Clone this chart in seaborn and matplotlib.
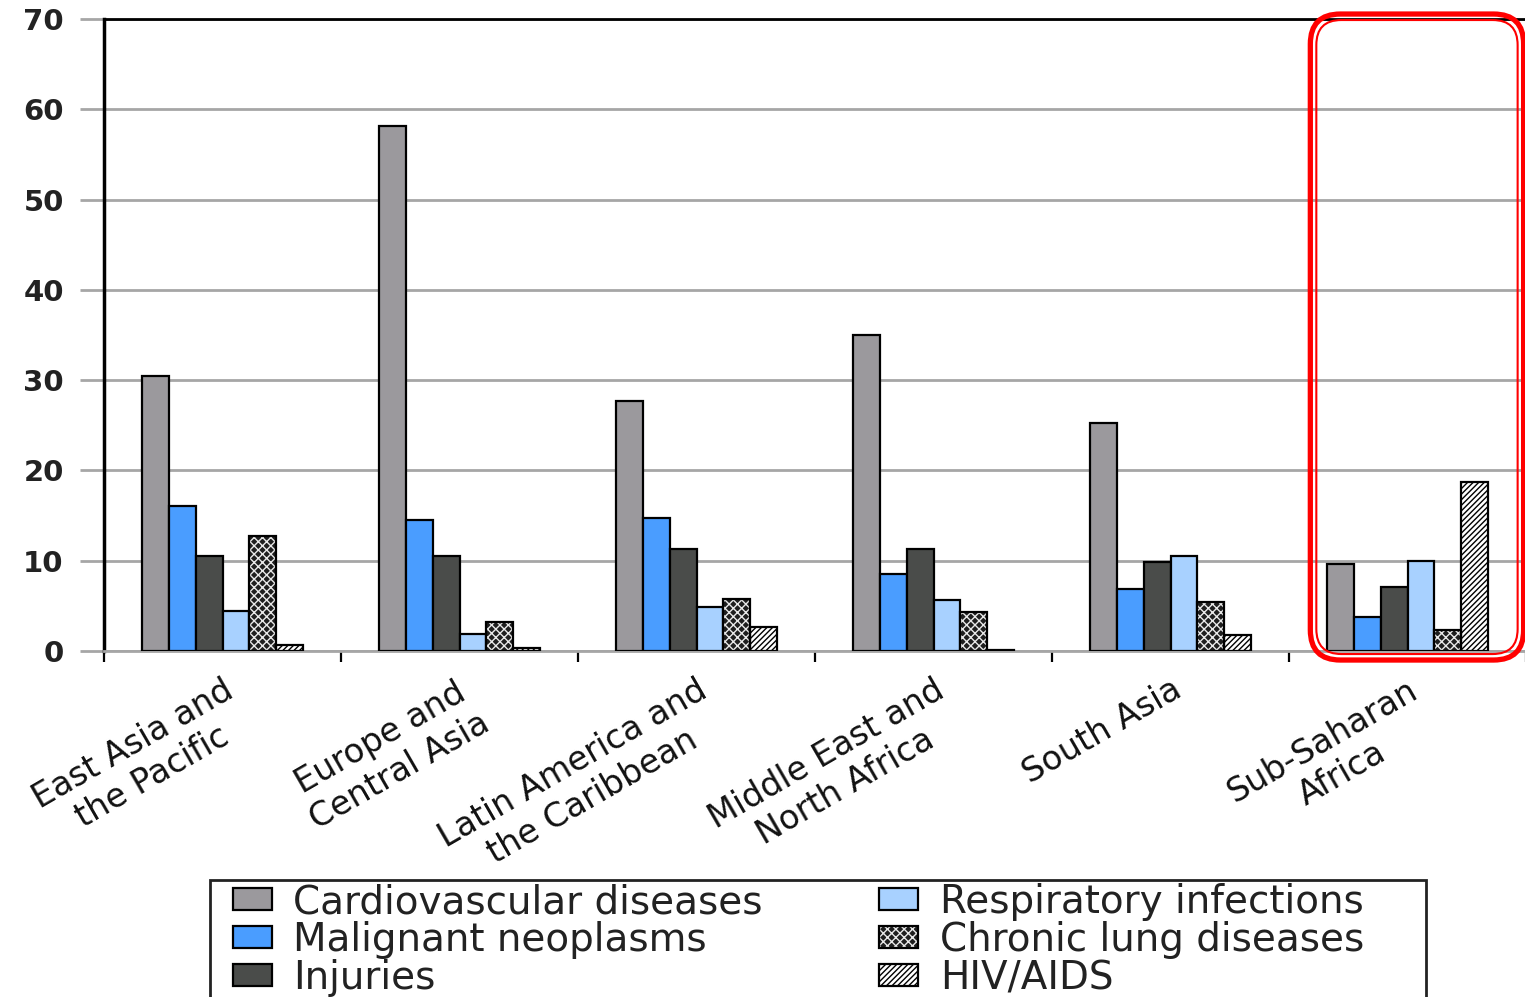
import numpy as np
import pandas as pd
import matplotlib
matplotlib.use("Agg")
import matplotlib.pyplot as plt
import seaborn as sns
from matplotlib.patches import Patch, Rectangle, FancyBboxPatch
from matplotlib.transforms import IdentityTransform
from matplotlib.ticker import FixedLocator

# ---- data -------------------------------------------------------------
regions = [
    "East Asia and\nthe Pacific",
    "Europe and\nCentral Asia",
    "Latin America and\nthe Caribbean",
    "Middle East and\nNorth Africa",
    "South Asia",
    "Sub-Saharan\nAfrica",
]
diseases = [
    "Cardiovascular diseases",
    "Malignant neoplasms",
    "Injuries",
    "Respiratory infections",
    "Chronic lung diseases",
    "HIV/AIDS",
]
cardiovascular = [30.5, 58.2, 27.7, 35.0, 25.2, 9.6]
malignant = [16.1, 14.5, 14.7, 8.5, 6.9, 3.8]
injuries = [10.5, 10.5, 11.3, 11.3, 9.9, 7.1]
respiratory = [4.4, 1.9, 4.9, 5.7, 10.5, 10.0]
chronic_lung = [12.7, 3.2, 5.8, 4.3, 5.4, 2.3]
hiv_aids = [0.7, 0.3, 2.7, 0.1, 1.8, 18.7]
y_ticks = [0, 10, 20, 30, 40, 50, 60, 70]

series = [cardiovascular, malignant, injuries, respiratory, chronic_lung, hiv_aids]
df = pd.DataFrame(
    [(r, d, v) for d, vals in zip(diseases, series) for r, v in zip(regions, vals)],
    columns=["region", "disease", "value"],
)

# ---- styling ----------------------------------------------------------
face = {
    "Cardiovascular diseases": "#9b999d",
    "Malignant neoplasms": "#4a9dff",
    "Injuries": "#4a4c4a",
    "Respiratory infections": "#a8d1ff",
    "Chronic lung diseases": "#1e1e1e",
    "HIV/AIDS": "#ffffff",
}

sns.set_theme(style="white")
plt.rcParams["font.family"] = ["DejaVu Sans"]
plt.rcParams["hatch.linewidth"] = 1.0

fig = plt.figure(figsize=(15.25, 9.97), dpi=100)
ax = fig.add_axes([104 / 1525, 346 / 997, 1422 / 1525, 632 / 997])

sns.barplot(
    data=df, x="region", y="value", hue="disease",
    order=regions, hue_order=diseases, palette=face, saturation=1,
    width=0.68, edgecolor="black", linewidth=1.6,
    legend=False, ax=ax, zorder=3,
)

# patterned series: chronic lung -> light speckle on dark; HIV/AIDS -> fine diagonals
n = len(regions)
bars = [p for p in ax.patches if isinstance(p, Rectangle)]
for i, p in enumerate(bars):
    d = diseases[i // n]
    if d == "Chronic lung diseases":
        p.set_hatch("xxxx")
        p.set_edgecolor("#e8e8e8")
        p.set_linewidth(0)
        ax.add_patch(Rectangle(p.get_xy(), p.get_width(), p.get_height(),
                               fill=False, edgecolor="black", linewidth=1.6, zorder=4))
    elif d == "HIV/AIDS":
        p.set_hatch("//////")

ax.set_xlim(-0.5, 5.5)
ax.set_ylim(0, 70)
ax.set_yticks(y_ticks)
ax.set_xlabel("")
ax.set_ylabel("")

# grid and spines
ax.yaxis.grid(True, color="#a6a6a6", linewidth=2.0, zorder=0)
ax.xaxis.grid(False)
ax.set_axisbelow(True)
ax.spines["right"].set_visible(False)
ax.spines["top"].set_color("black")
ax.spines["top"].set_linewidth(2.0)
ax.spines["left"].set_color("black")
ax.spines["left"].set_linewidth(2.5)
ax.spines["bottom"].set_color("#a6a6a6")
ax.spines["bottom"].set_linewidth(2.0)

ax.tick_params(axis="y", which="major", direction="out", length=17, width=2,
               color="#a6a6a6", pad=12, labelsize=21, left=True)
for t in ax.get_yticklabels():
    t.set_fontweight("bold")
    t.set_color("#222222")

# category boundaries as minor ticks, labels centred under each group
ax.xaxis.set_minor_locator(FixedLocator(np.arange(-0.5, 6.0, 1.0)))
ax.tick_params(axis="x", which="minor", direction="out", length=8, width=1.6,
               color="black", bottom=True)
ax.tick_params(axis="x", which="major", length=0, pad=16, labelsize=24)
for t in ax.get_xticklabels():
    t.set_rotation(30)
    t.set_ha("right")
    t.set_va("top")
    t.set_rotation_mode("anchor")
    t.set_multialignment("center")
    t.set_color("#111111")

# legend
handles = []
for d in diseases:
    if d == "Chronic lung diseases":
        handles.append((Patch(facecolor=face[d], edgecolor="#e8e8e8", hatch="xxxx", linewidth=0),
                        Patch(fill=False, edgecolor="black", linewidth=1.6)))
    elif d == "HIV/AIDS":
        handles.append(Patch(facecolor=face[d], edgecolor="black", hatch="//////", linewidth=1.6))
    else:
        handles.append(Patch(facecolor=face[d], edgecolor="black", linewidth=1.6))

leg = fig.legend(
    handles, diseases, loc="upper left", bbox_to_anchor=(233 / 1525, 1 - 883 / 997),
    ncol=2, fontsize=28, frameon=False,
    borderpad=0.0, labelspacing=0.0, handlelength=1.0, handleheight=0.5,
    handletextpad=0.55, columnspacing=3.0, borderaxespad=0,
)
for txt in leg.get_texts():
    txt.set_color("#222222")

fig.canvas.draw()

# box around the legend entries, wider at the sides, running off the bottom edge
ext = leg.get_window_extent()
lx0, ltop, lx1 = ext.x0 - 23, ext.y1 + 3, ext.x1 + 62
fig.add_artist(Rectangle((lx0, -20), lx1 - lx0, ltop + 20, fill=False,
                         edgecolor="#222222", linewidth=2.0,
                         transform=IdentityTransform(), zorder=5))

# highlight around the Sub-Saharan Africa group
x0, y0 = ax.transData.transform((4.59, -1.0))
x1, y1 = ax.transData.transform((5.49, 70.55))
outer = FancyBboxPatch((x0, y0), x1 - x0, y1 - y0,
                       boxstyle="round,pad=0,rounding_size=30",
                       fill=False, edgecolor="#ff0000", linewidth=3.8,
                       transform=IdentityTransform(), zorder=10)
inner = FancyBboxPatch((x0 + 6, y0 + 6), x1 - x0 - 12, y1 - y0 - 12,
                       boxstyle="round,pad=0,rounding_size=25",
                       fill=False, edgecolor="#ff0000", linewidth=1.5,
                       transform=IdentityTransform(), zorder=10)
fig.add_artist(outer)
fig.add_artist(inner)

fig.savefig("out.png", dpi=100)
